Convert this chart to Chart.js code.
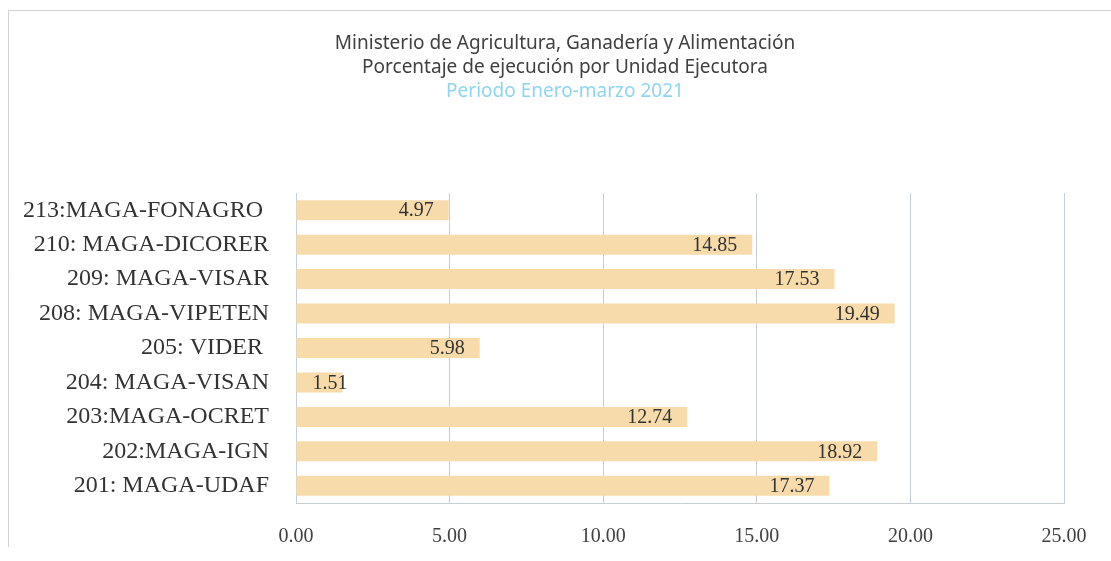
<!DOCTYPE html>
<html>
<head>
<meta charset="utf-8">
<script src="https://cdn.jsdelivr.net/npm/chart.js@4.4.1/dist/chart.umd.min.js"></script>
<style>
    html, body { margin: 0; padding: 0; background: #fff; }
    #wrap { width: 1111px; height: 561px; position: relative; }
</style>
</head>
<body>
<div id="wrap"><canvas id="myChart" width="1111" height="561"></canvas></div>
<script>
const units = ['213:MAGA-FONAGRO ', '210: MAGA-DICORER', '209: MAGA-VISAR', '208: MAGA-VIPETEN',
    '205: VIDER ', '204: MAGA-VISAN', '203:MAGA-OCRET', '202:MAGA-IGN', '201: MAGA-UDAF'];
const percent = [4.97, 14.85, 17.53, 19.49, 5.98, 1.51, 12.74, 18.92, 17.37];
const titleLines = ['Ministerio de Agricultura, Ganadería y Alimentación', 'Porcentaje de ejecución por Unidad Ejecutora'];
const period = 'Periodo Enero-marzo 2021';

const serif = '"Liberation Serif", "DejaVu Serif", serif';

// value labels inside the end of every bar (pushed right when the bar is too short)
const barLabels = {
    id: 'barLabels',
    afterDatasetsDraw(chart) {
        const ctx = chart.ctx;
        const meta = chart.getDatasetMeta(0);
        ctx.save();
        ctx.font = `20px ${serif}`;
        ctx.fillStyle = '#333';
        ctx.textBaseline = 'middle';
        meta.data.forEach((bar, i) => {
            const txt = percent[i].toFixed(2);
            const w = ctx.measureText(txt).width;
            if (bar.x - 15 - w < bar.base + 16) {
                ctx.textAlign = 'left';
                ctx.fillText(txt, bar.base + 16, bar.y + 1);
            } else {
                ctx.textAlign = 'right';
                ctx.fillText(txt, bar.x - 15, bar.y + 1);
            }
        });
        ctx.restore();
    }
};

// title sits centred on the framed area, not on the chart box
const titleShift = {
    id: 'titleShift',
    afterLayout(chart) {
        chart.boxes.filter(b => b.position === 'top').forEach(b => { b.left = 66; });
    }
};

// thin frame round the picture
const frame = {
    id: 'frame',
    beforeDraw(chart) {
        const ctx = chart.ctx;
        ctx.save();
        ctx.strokeStyle = '#cfd3d6';
        ctx.lineWidth = 1;
        ctx.beginPath();
        ctx.moveTo(8.5, 547);
        ctx.lineTo(8.5, 10.5);
        ctx.lineTo(1111, 10.5);
        ctx.stroke();
        ctx.restore();
    }
};

let ctx = document.getElementById('myChart').getContext('2d');
let chart = new Chart(ctx, {
    type: 'bar',
    data: {
        labels: units,
        datasets: [{
            data: percent,
            backgroundColor: '#f7dbab',
            borderWidth: 0,
            barPercentage: 0.58,
            categoryPercentage: 1,
        }]
    },
    options: {
        indexAxis: 'y',
        responsive: false,
        animation: false,
        layout: {
            padding: { top: 32, left: 0, right: 47, bottom: 0 }
        },
        plugins: {
            legend: { display: false },
            tooltip: { enabled: false },
            title: {
                display: true,
                text: titleLines,
                color: '#404040',
                font: { family: '"Noto Sans", sans-serif', size: 19, weight: 'normal', lineHeight: 24 / 19 },
                padding: { top: 0, bottom: 0 }
            },
            subtitle: {
                display: true,
                text: period,
                color: '#8fd5ef',
                font: { family: '"Noto Sans", sans-serif', size: 19, weight: 'normal', lineHeight: 24 / 19 },
                padding: { top: 0, bottom: 89 }
            }
        },
        scales: {
            x: {
                min: 0,
                max: 25,
                ticks: {
                    stepSize: 5,
                    padding: 22,
                    color: '#404040',
                    font: { family: serif, size: 20 },
                    callback: v => v.toFixed(2)
                },
                grid: { color: '#c9ced2', drawTicks: false },
                border: { display: true, color: '#c9ced2' },
                afterFit: scale => { scale.height = 58; }
            },
            y: {
                ticks: {
                    padding: 27,
                    color: '#333',
                    font: { family: serif, size: 24 }
                },
                grid: { display: false, drawTicks: false },
                border: { display: false },
                afterFit: scale => { scale.width = 296; }
            }
        }
    },
    plugins: [barLabels, titleShift, frame]
});
</script>
</body>
</html>
